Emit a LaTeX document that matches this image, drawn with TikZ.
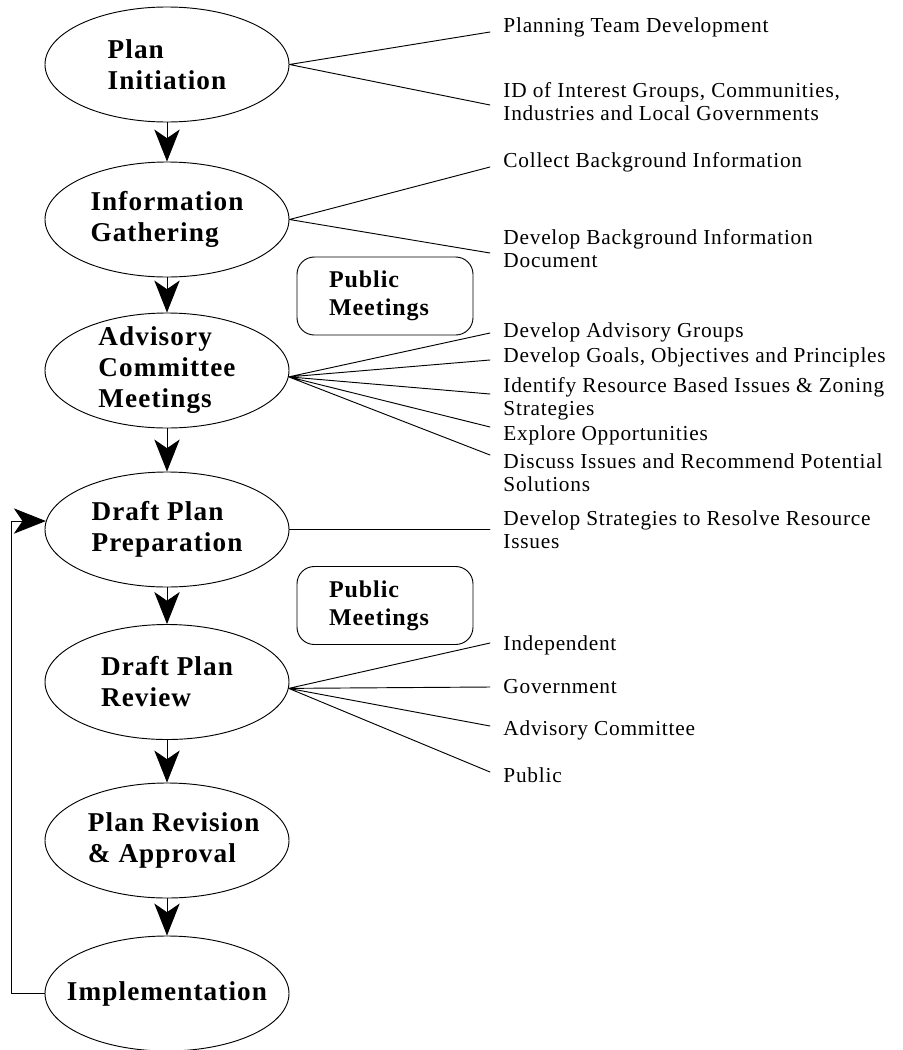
\documentclass[tikz,border=0pt]{standalone}
\usepackage{fontspec}
\setmainfont{Liberation Serif}
\newfontfamily\stagefont[LetterSpace=4]{Liberation Serif}
\newfontfamily\itemfont[LetterSpace=3.5]{Liberation Serif}
\usetikzlibrary{shapes.geometric,arrows.meta}

\begin{document}
\begin{tikzpicture}[x=0.75pt,y=-0.75pt,>={Stealth[length=24pt,width=19pt,inset=6.5pt]}, line join=round, line cap=round, line width=0.7pt,
	stage/.style={draw,ellipse,minimum width=183pt,minimum height=86.25pt,inner sep=0pt},
	stagetext/.style={font=\stagefont\bfseries\fontsize{20.4}{23.25}\selectfont,align=left,inner sep=0pt},
	pubbox/.style={draw,rounded corners=13pt,text width=84pt,inner xsep=24pt,inner ysep=0pt,minimum height=58.5pt,align=left,font=\stagefont\bfseries\fontsize{18}{21}\selectfont},
	item/.style={anchor=base west,inner sep=0pt,align=left,font=\itemfont\fontsize{16}{17.25}\selectfont}]
	\useasboundingbox (0,0) rectangle (903,1050);
	% stages
	\node[stage,label={[stagetext]center:Plan\\Initiation}] (init) at (167,64.5) {};
	\node[stage,label={[stagetext]center:Information\\Gathering}] (info) at (167,219.5) {};
	\node[stage,label={[stagetext]center:Advisory\\Committee\\Meetings}] (adv) at (167,370.5) {};
	\node[stage,label={[stagetext]center:Draft Plan\\Preparation}] (prep) at (167,529.5) {};
	\node[stage,label={[stagetext]center:Draft Plan\\Review}] (rev) at (167,682) {};
	\node[stage,label={[stagetext,xshift=5pt]center:Plan Revision\\\& Approval}] (appr) at (167,840.5) {};
	\node[stage,label={[stagetext]center:Implementation}] (impl) at (167,993.5) {};
	\node[pubbox] (pub1) at (385,296) {Public\\Meetings};
	\node[pubbox] (pub2) at (385,605.5) {Public\\Meetings};
	% tasks (base = last line)
	\node[item] (t1) at (503,32) {Planning Team Development};
	\node[item] (t2) at (503,120) {ID of Interest Groups, Communities,\\Industries and Local Governments};
	\node[item] (t3) at (503,167) {Collect Background Information};
	\node[item] (t4) at (503,267) {Develop Background Information\\Document};
	\node[item] (t5) at (503,337) {Develop Advisory Groups};
	\node[item] (t6) at (503,362) {Develop Goals, Objectives and Principles};
	\node[item] (t7) at (503,415) {Identify Resource Based Issues \& Zoning\\Strategies};
	\node[item] (t8) at (503,440) {Explore Opportunities};
	\node[item] (t9) at (503,491) {Discuss Issues and Recommend Potential\\Solutions};
	\node[item] (t10) at (503,548) {Develop Strategies to Resolve Resource\\Issues};
	\node[item] (t11) at (503,650) {Independent};
	\node[item] (t12) at (503,693) {Government};
	\node[item] (t13) at (503,735) {Advisory Committee};
	\node[item] (t14) at (503,782) {Public};
	% ends of the fan lines
	\coordinate (a1) at (490,32);
	\coordinate (a2) at (490,105);
	\coordinate (b1) at (490,167);
	\coordinate (b2) at (490,253);
	\coordinate (c1) at (490,333);
	\coordinate (c2) at (490,360);
	\coordinate (c3) at (490,394);
	\coordinate (c4) at (490,427);
	\coordinate (c5) at (490,455);
	\coordinate (d1) at (490,529.5);
	\coordinate (e1) at (490,643);
	\coordinate (e2) at (490,687);
	\coordinate (e3) at (490,726);
	\coordinate (e4) at (490,772);
	\draw (init.east)--(a1) (init.east)--(a2);
	\draw (info.east)--(b1) (info.east)--(b2);
	\draw (adv.-3)--(c1) (adv.-3)--(c2) (adv.-3)--(c3) (adv.-3)--(c4) (adv.-3)--(c5);
	\draw (prep.east)--(d1);
	\draw (rev.-3)--(e1) (rev.-3)--(e2) (rev.-3)--(e3) (rev.-3)--(e4);
	% flow
	\draw[->] (init)--(info);
	\draw[->] (info)--(adv);
	\draw[->] (adv)--(prep);
	\draw[->] (prep)--(rev);
	\draw[->] (rev)--(appr);
	\draw[->] (appr)--(impl);
	\draw[->,line cap=butt] (impl.west)--++(-33,0) |- (prep.176.5);
\end{tikzpicture}
\end{document}
